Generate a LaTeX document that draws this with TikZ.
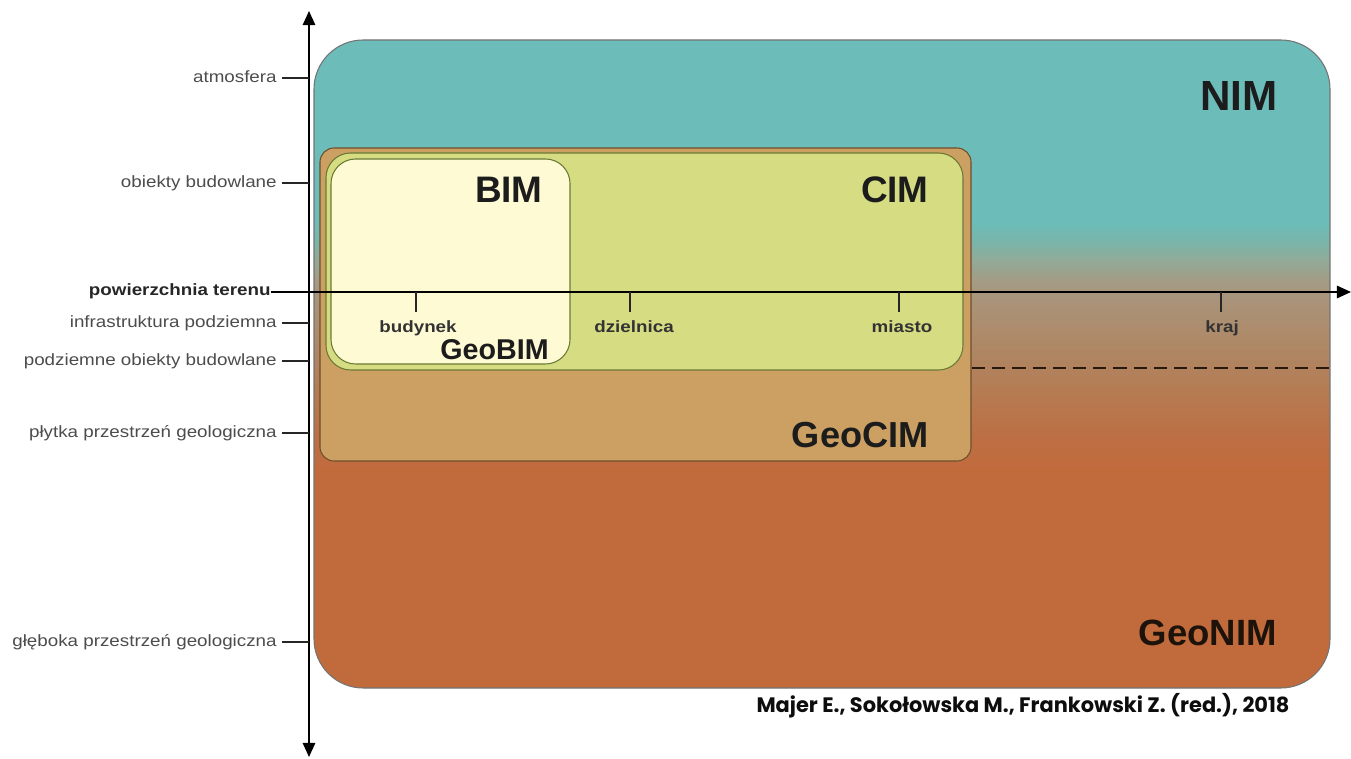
\documentclass[tikz,border=0pt]{standalone}
\usepackage{fontspec}
\setmainfont{Liberation Sans}
\newfontfamily\axisfont[FakeStretch=1.15]{Liberation Sans}
\newfontfamily\citefont{Poppins}
\usetikzlibrary{arrows.meta}

\definecolor{nimteal}{HTML}{6CBDBA}
\definecolor{gA}{HTML}{78B5AB}
\definecolor{gB}{HTML}{92AA98}
\definecolor{gC}{HTML}{A39C84}
\definecolor{gD}{HTML}{A99379}
\definecolor{gE}{HTML}{AD8C6C}
\definecolor{gF}{HTML}{B08460}
\definecolor{gG}{HTML}{B67A50}
\definecolor{gH}{HTML}{BC6F44}
\definecolor{geonim}{HTML}{C16B3D}
\definecolor{geocim}{HTML}{CCA062}
\definecolor{geocimline}{HTML}{6E4E2C}
\definecolor{cim}{HTML}{D5DC82}
\definecolor{cimline}{HTML}{6A7A34}
\definecolor{bim}{HTML}{FEFAD4}
\definecolor{lblgray}{HTML}{4C4C4C}
\definecolor{dark}{HTML}{1C1C1C}

% sky-to-ground gradient of the outer model (path spans 25bp..75bp)
\pgfdeclareverticalshading{nimshade}{100bp}{%
  color(0bp)=(geonim); color(41.8bp)=(geonim);
  color(44.5bp)=(gH); color(47.5bp)=(gG); color(50.3bp)=(gF);
  color(52.6bp)=(gE); color(54.9bp)=(gD); color(56.4bp)=(gC);
  color(58.0bp)=(gB); color(59.5bp)=(gA); color(61.0bp)=(nimteal);
  color(100bp)=(nimteal)}

\tikzset{
  axisline/.style={line width=1.2pt, draw=black},
  ticklbl/.style={font=\axisfont\fontsize{9.3}{11}\selectfont, text=lblgray, inner sep=0pt, anchor=mid east},
  tickline/.style={line width=0.9pt, draw=black!85},
  scalelbl/.style={font=\axisfont\fontsize{9.3}{11}\selectfont\bfseries, text=black!80, inner sep=0pt, anchor=base},
  modellbl/.style={font=\bfseries, text=dark, inner sep=0pt, anchor=base east},
}

\begin{document}
\begin{tikzpicture}[x=0.02cm, y=-0.02cm]
\useasboundingbox (0,0) rectangle (1351,759);

% outer model: NIM above ground, GeoNIM below
\shadedraw[shading=nimshade, draw=black!55, line width=0.6pt, rounded corners=28pt]
  (314,40) rectangle (1330,688);

% city model with its geological extent
\filldraw[fill=geocim, draw=geocimline, line width=0.6pt, rounded corners=8pt]
  (320,148) rectangle (971,461);
\filldraw[fill=cim, draw=cimline, line width=0.6pt, rounded corners=14pt]
  (326,153) rectangle (963,370);
\filldraw[fill=bim, draw=cimline, line width=0.6pt, rounded corners=14pt]
  (331,159) rectangle (570,364);

% boundary of the shallow subsurface
\coordinate (d0) at (972,368);
\coordinate (d1) at (1329,368);
\draw[line width=1.2pt, draw=black!80!brown, dash pattern=on 7.5pt off 4pt] (d0) -- (d1);

% model names
\node[modellbl, font=\bfseries\fontsize{24}{28}\selectfont] (nim) at (1278,111) {NIM};
\node[modellbl, font=\bfseries\fontsize{21}{25}\selectfont] (bimlbl) at (543,203) {BIM};
\node[modellbl, font=\bfseries\fontsize{21}{25}\selectfont] (cimlbl) at (929,203) {CIM};
\node[modellbl, font=\bfseries\fontsize{16.3}{19}\selectfont] (geobim) at (549,360) {GeoBIM};
\node[modellbl, font=\bfseries\fontsize{20.6}{24}\selectfont] (geocimlbl) at (929,448) {GeoCIM};
\node[modellbl, font=\bfseries\fontsize{20.8}{24}\selectfont, text=black!85!brown] (geonimlbl) at (1277,645) {GeoNIM};

% vertical axis
\coordinate (vtop) at (309,11);
\coordinate (vbot) at (309,757);
\draw[axisline, {Triangle[length=8pt,width=7pt]}-{Triangle[length=8pt,width=7pt]}] (vbot) -- (vtop);

% levels along the vertical axis
\node[ticklbl] (l1) at (277,78) {atmosfera};
\node[ticklbl] (l2) at (277,183) {obiekty budowlane};
\node[ticklbl] (l4) at (277,323) {infrastruktura podziemna};
\node[ticklbl] (l5) at (277,361) {podziemne obiekty budowlane};
\node[ticklbl] (l6) at (277,433) {płytka przestrzeń geologiczna};
\node[ticklbl] (l7) at (277,642) {głęboka przestrzeń geologiczna};
\foreach \l in {l1,l2,l4,l5,l6,l7}
  \draw[tickline] ([xshift=2.8pt]\l.mid east) -- (\l.mid east -| vtop);

\node[ticklbl, font=\axisfont\fontsize{9.3}{11}\selectfont\bfseries, text=black!85] (l3) at (271,291) {powierzchnia terenu};

% horizontal axis (ground surface and spatial scale)
\coordinate (h0) at (271,292);
\coordinate (h1) at (1351,292);
\draw[axisline, -{Triangle[length=8pt,width=7pt]}] (h0) -- (h1);

\coordinate (t1) at (416,292);
\coordinate (t2) at (630,292);
\coordinate (t3) at (899,292);
\coordinate (t4) at (1221,292);
\foreach \t in {t1,t2,t3,t4}
  \draw[tickline] (\t) -- ++(0,20);
\node[scalelbl] (s1) at (418,333) {budynek};
\node[scalelbl] (s2) at (634,333) {dzielnica};
\node[scalelbl] (s3) at (902,333) {miasto};
\node[scalelbl] (s4) at (1222,333) {kraj};

% source
\node[font=\citefont\bfseries\fontsize{11.9}{14}\selectfont, text=black!95, inner sep=0pt, anchor=base] (src) at (1023,712) {Majer E., Sokołowska M., Frankowski Z. (red.), 2018};
\end{tikzpicture}
\end{document}
